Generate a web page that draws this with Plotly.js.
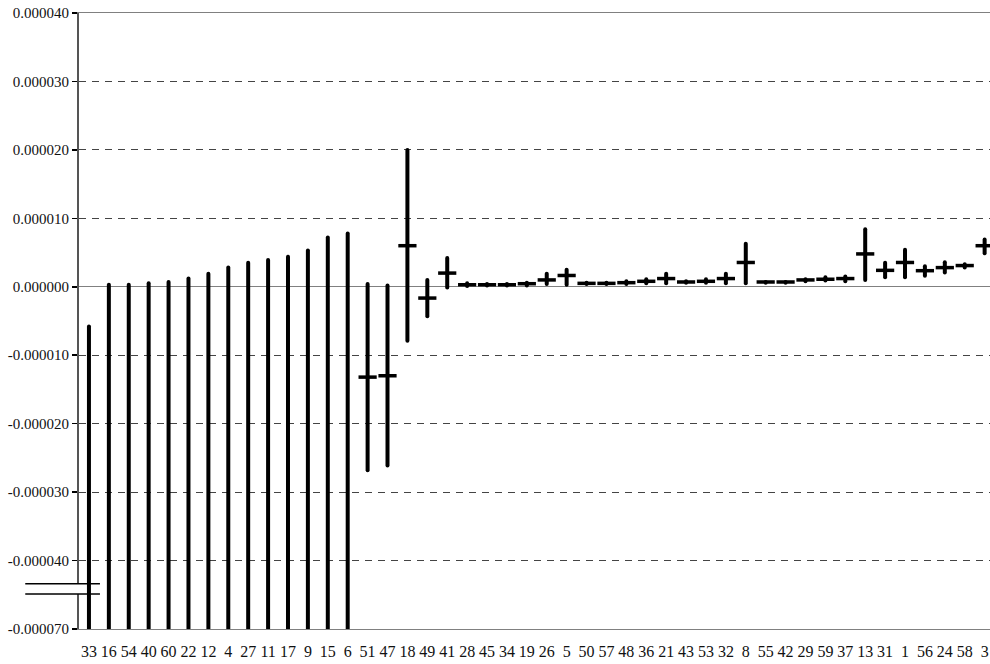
<!DOCTYPE html>
<html>
<head>
<meta charset="utf-8">
<script src="https://cdn.plot.ly/plotly-3.0.1.min.js"></script>
<style>
html,body{margin:0;padding:0;background:#fff;}
#chart{width:990px;height:664px;}
.scatterlayer .js-line{stroke-linecap:round !important;}
</style>
</head>
<body>
<div id="chart"></div>
<script>
// Categories (x-axis labels)
var categories = ['33','16','54','40','60','22','12','4','27','11','17','9','15','6','51','47','18','49','41','28','45','34','19','26','5','50','57','48','36','21','43','53','32','8','55','42','29','59','37','13','31','1','56','24','58','3'];

// Values in units of 1e-6
var highVals = [-5.8,0.3,0.3,0.5,0.7,1.2,1.9,2.8,3.5,3.9,4.4,5.3,7.2,7.8,0.4,0.2,20.0,1.0,4.2,0.5,0.4,0.4,0.6,1.9,2.5,0.6,0.6,0.8,1.1,1.9,0.8,1.1,1.9,6.3,0.7,0.7,1.1,1.4,1.5,8.4,3.5,5.4,3.0,3.6,3.3,6.9];
var lowVals = [-72,-72,-72,-72,-72,-72,-72,-72,-72,-72,-72,-72,-72,-72,-26.8,-26.1,-7.9,-4.3,-0.1,0.1,0.2,0.2,0.2,0.4,0.3,0.4,0.4,0.4,0.5,0.5,0.6,0.6,0.5,0.5,0.6,0.6,0.8,0.9,0.8,1.0,1.4,1.4,1.6,2.1,2.8,4.9];
var closeVals = [null,null,null,null,null,null,null,null,null,null,null,null,null,null,-13.2,-13.0,6.0,-1.65,2.0,0.3,0.3,0.3,0.45,1.0,1.65,0.5,0.5,0.6,0.8,1.2,0.7,0.8,1.2,3.55,0.7,0.7,1.0,1.1,1.2,4.8,2.4,3.55,2.35,2.8,3.1,6.0];

// Y tick labels
var yTickValues = [40,30,20,10,0,-10,-20,-30,-40,-70];
var yTickLabels = ['0.000040','0.000030','0.000020','0.000010','0.000000','-0.000010','-0.000020','-0.000030','-0.000040','-0.000070'];

// Broken axis: -40..-70 compressed into one tick interval
function ymap(v){
  if (v === null) return null;
  var m = v < -40 ? -40 + (v + 40) / 3 : v;
  return m * 1e-6;
}

var segX = [], segY = [];
for (var i = 0; i < categories.length; i++) {
  segX.push(i, i, null);
  segY.push(ymap(lowVals[i]), ymap(highVals[i]), null);
}
var idx = categories.map(function(c, i){ return i; });

var traces = [
  {
    type: 'scatter', mode: 'lines', x: segX, y: segY,
    line: {color: '#000', width: 4}, hoverinfo: 'skip', showlegend: false, connectgaps: false
  },
  {
    type: 'scatter', mode: 'markers', x: idx, y: closeVals.map(ymap),
    marker: {symbol: 'line-ew', size: 13, color: '#000', line: {color: '#000', width: 3.5}},
    showlegend: false
  }
];

var font = {family: '"Liberation Serif", "Times New Roman", serif', size: 15, color: '#111'};

var layout = {
  width: 990, height: 664,
  margin: {l: 79, r: 0, t: 13, b: 35},
  paper_bgcolor: '#fff', plot_bgcolor: '#fff',
  font: font,
  showlegend: false,
  xaxis: {
    range: [-0.5, 45.27],
    tickvals: idx, ticktext: categories,
    tickfont: {family: font.family, size: 16, color: '#111'},
    showgrid: false, zeroline: false,
    showline: true, linecolor: '#808080', linewidth: 1, mirror: true,
    ticks: 'outside', ticklen: 8, tickcolor: 'rgba(0,0,0,0)'
  },
  yaxis: {
    range: [ymap(-70), ymap(40)],
    tickvals: yTickValues.map(ymap), ticktext: yTickLabels,
    tickfont: {family: font.family, size: 15, color: '#111'},
    showline: true, linecolor: '#555', linewidth: 2,
    ticks: 'outside', ticklen: 5, tickcolor: '#000', tickwidth: 1.5,
    showgrid: true, gridcolor: '#444', gridwidth: 1, griddash: '7px,6px',
    zeroline: true, zerolinecolor: '#808080', zerolinewidth: 1
  },
  shapes: [
    {type: 'rect', layer: 'above', xref: 'paper', yref: 'y', x0: -0.005, x1: 0.005, y0: -44.9e-6, y1: -43.4e-6, fillcolor: '#fff', line: {width: 0}},
    {type: 'line', layer: 'above', xref: 'paper', yref: 'y', x0: -0.059, x1: 0.023, y0: -43.4e-6, y1: -43.4e-6, line: {color: '#000', width: 1.5}},
    {type: 'line', layer: 'above', xref: 'paper', yref: 'y', x0: -0.059, x1: 0.023, y0: -44.9e-6, y1: -44.9e-6, line: {color: '#000', width: 1.5}}
  ]
};

Plotly.newPlot('chart', traces, layout, {displayModeBar: false, staticPlot: true});
</script>
</body>
</html>
